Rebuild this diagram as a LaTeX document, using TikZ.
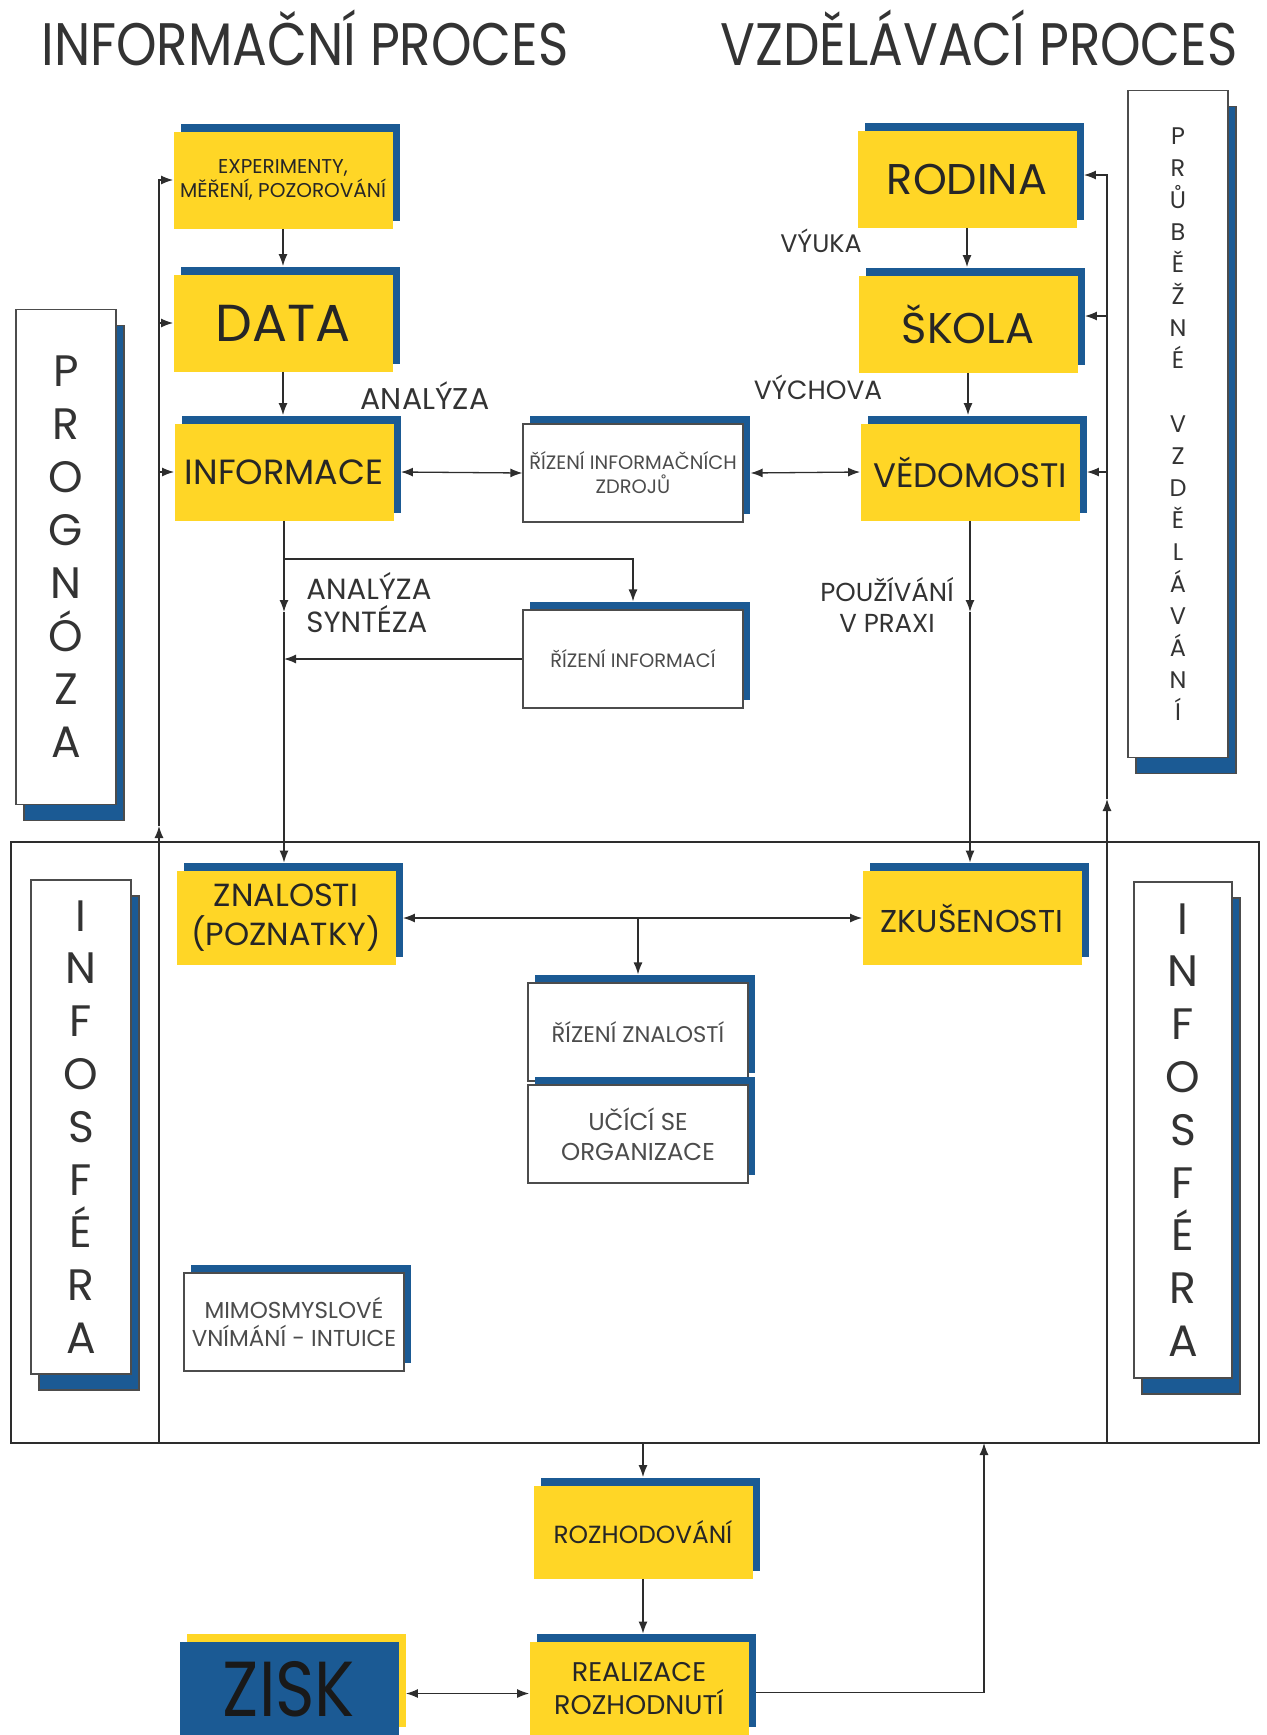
\documentclass[tikz,border=0pt]{standalone}
\usepackage{fontspec}
\setmainfont{Poppins}
\newfontfamily\titlefont{Poppins}[FakeStretch=0.86]
\usetikzlibrary{arrows.meta,shadows}
\definecolor{boxyellow}{RGB}{255,214,38}
\definecolor{boxblue}{RGB}{27,90,148}
\definecolor{linegray}{RGB}{45,45,45}

\begin{document}
\begin{tikzpicture}[
  x=0.5pt, y=-0.5pt,
  >={Latex[length=6pt,width=4.5pt]},
  conn/.style={draw=linegray, line width=0.65pt},
  ybox/.style={rectangle, fill=boxyellow, text=black!85, minimum width=109.5pt, minimum height=48.5pt, inner sep=0pt, align=center,
    general shadow={fill=boxblue, shadow xshift=3.5pt, shadow yshift=4pt}},
  wbox/.style={rectangle, draw=black!70, line width=0.6pt, fill=white, text=black!70, minimum width=110pt, minimum height=49pt, inner sep=0pt, align=center,
    general shadow={fill=boxblue, shadow xshift=3.5pt, shadow yshift=4pt}},
  sidebox/.style={rectangle, draw=black!70, line width=0.6pt, fill=white, text=black!80, minimum width=50pt, inner sep=0pt, align=center,
    general shadow={fill=boxblue, draw=black!70, shadow xshift=4pt, shadow yshift=-8pt}},
  lbl/.style={text=black!80, align=center, inner sep=0pt},
  title/.style={text=black!80, font=\titlefont\fontsize{30}{36}\selectfont},
  font=\fontsize{10}{12}\selectfont
]
\useasboundingbox (0,0) rectangle (1266,1735);

% titles
\node[title] (tinfo) at (305,38) {INFORMAČNÍ PROCES};
\node[title] (tvzd) at (979,38) {VZDĚLÁVACÍ PROCES};

% infosfera frame
\node[draw=linegray, line width=0.65pt, minimum width=624pt, minimum height=300.5pt, inner sep=0pt] (sfera) at (635,1142.5) {};

% informacni proces
\node[ybox, font=\fontsize{10}{12}\selectfont] (exp) at (283,180) {EXPERIMENTY,\\MĚŘENÍ, POZOROVÁNÍ};
\node[ybox, font=\fontsize{26}{30}\selectfont] (data) at (283,323) {DATA};
\node[ybox, font=\fontsize{17.5}{21}\selectfont] (info) at (284,472) {INFORMACE};

% vzdelavaci proces
\node[ybox, font=\fontsize{21.5}{25}\selectfont] (rodina) at (967,179) {RODINA};
\node[ybox, font=\fontsize{21.5}{25}\selectfont] (skola) at (968,324) {ŠKOLA};
\node[ybox, font=\fontsize{17}{20}\selectfont] (ved) at (970,472) {VĚDOMOSTI};

% rizeni
\node[wbox, font=\fontsize{9.7}{12}\selectfont] (riz) at (633,473) {ŘÍZENÍ INFORMAČNÍCH\\ZDROJŮ};
\node[wbox, font=\fontsize{9.7}{12}\selectfont] (ri) at (633,659) {ŘÍZENÍ INFORMACÍ};

% side boxes
\node[sidebox, minimum height=247.5pt, font=\fontsize{22}{26.5}\selectfont] (progn) at (66,557) {P\\R\\O\\G\\N\\Ó\\Z\\A};
\node[sidebox, minimum height=333.5pt, font=\fontsize{12}{16}\selectfont] (prubez) at (1178,424) {P\\R\\Ů\\B\\Ě\\Ž\\N\\É\\[16pt]V\\Z\\D\\Ě\\L\\Á\\V\\Á\\N\\Í};
\node[sidebox, minimum height=247pt, font=\fontsize{22}{26.4}\selectfont] (isfl) at (81,1127) {I\\N\\F\\O\\S\\F\\É\\R\\A};
\node[sidebox, minimum height=248pt, minimum width=49pt, font=\fontsize{22}{26.4}\selectfont] (isfr) at (1183,1130) {I\\N\\F\\O\\S\\F\\É\\R\\A};

% znalosti a zkusenosti
\node[ybox, minimum height=47pt, font=\fontsize{16}{19.5}\selectfont] (znal) at (286,918) {ZNALOSTI\\(POZNATKY)};
\node[ybox, minimum height=47pt, font=\fontsize{15.8}{19}\selectfont] (zku) at (972,918) {ZKUŠENOSTI};
\node[wbox, font=\fontsize{11.3}{14}\selectfont] (rzn) at (638,1032) {ŘÍZENÍ ZNALOSTÍ};
\node[wbox, font=\fontsize{12.2}{15}\selectfont] (uso) at (638,1134) {UČÍCÍ SE\\ORGANIZACE};
\node[wbox, font=\fontsize{11.5}{14}\selectfont] (mim) at (294,1322) {MIMOSMYSLOVÉ\\VNÍMÁNÍ - INTUICE};

% rozhodovani
\node[ybox, minimum height=46.5pt, font=\fontsize{12.4}{15}\selectfont] (rozh) at (643,1532) {ROZHODOVÁNÍ};
\node[ybox, minimum height=46.5pt, font=\fontsize{13.5}{16.5}\selectfont] (real) at (639,1688.5) {REALIZACE\\ROZHODNUTÍ};
\node[ybox, fill=boxblue, minimum height=46.5pt, text=black!90, text depth=0pt, font=\titlefont\fontsize{39}{42}\selectfont,
  general shadow={fill=boxyellow, shadow xshift=3.5pt, shadow yshift=4pt}] (zisk) at (289,1688.5) {ZISK};

% labels
\node[lbl, font=\fontsize{15}{17}\selectfont] (lanal) at (425,396) {ANALÝZA};
\node[lbl, font=\fontsize{12.7}{15}\selectfont] (lvyuka) at (821,241) {VÝUKA};
\node[lbl, font=\fontsize{13.2}{16}\selectfont] (lvych) at (818,387) {VÝCHOVA};
\node[lbl, align=left, anchor=west, font=\fontsize{14.6}{16.5}\selectfont] (lanso) at (306,603) {ANALÝZA\\SYNTÉZA};
\node[lbl, font=\fontsize{13}{15.5}\selectfont] (lpouz) at (887,605) {POUŽÍVÁNÍ\\V PRAXI};

% helper points
\coordinate (lb) at (159,1443);
\coordinate (lt) at (159,826);
\coordinate (rb) at (1107,1443);
\coordinate (rt) at (1107,799);
\coordinate (am) at (283,612);
\coordinate (br) at (283,559);
\coordinate (rr) at (984,1443);
\coordinate (datatop) at ([yshift=4pt]data.north);
\coordinate (infotop) at ([yshift=4pt]info.north);
\coordinate (skolatop) at ([yshift=4pt]skola.north);
\coordinate (vedtop) at ([yshift=4pt]ved.north);
\coordinate (ritop) at ([yshift=4pt]ri.north);
\coordinate (znaltop) at ([yshift=4pt]znal.north);
\coordinate (zkutop) at ([yshift=4pt]zku.north);
\coordinate (rzntop) at ([yshift=4pt]rzn.north);
\coordinate (rozhtop) at ([yshift=4pt]rozh.north);
\coordinate (realtop) at ([yshift=4pt]real.north);

% feedback left
\draw[conn,->] (lb) -- (lt);
\draw[conn,->] (lt) |- (exp.west);
\draw[conn,->] (lt |- data.west) -- (data.west);
\draw[conn,->] (lt |- info.west) -- (info.west);

% feedback right
\draw[conn,->] (rb) -- (rt);
\draw[conn,->] (rt) |- ([xshift=3.5pt,yshift=2pt]rodina.east);
\draw[conn,->] (rt |- skola.east) ++(0,-8) -- ([xshift=3.5pt,yshift=4pt]skola.east);
\draw[conn,->] (rt |- ved.east) -- ([xshift=3.5pt]ved.east);

% informacni tok
\draw[conn,->] (exp.south) -- (exp.south |- datatop);
\draw[conn,->] (data.south) -- (data.south |- infotop);
\draw[conn,<->] ([xshift=3.5pt]info.east) -- (riz.west);
\draw[conn,<->] ([xshift=3.5pt]riz.east) -- (ved.west);
\draw[conn,->] (rodina.south) -- (rodina.south |- skolatop);
\draw[conn,->] (skola.south) -- (skola.south |- vedtop);

\draw[conn,->] (info.south) -- (info.south |- am);
\draw[conn,->] (info.south |- am) -- (info.south |- znaltop);
\draw[conn,->] (info.south |- br) -| (ritop);
\draw[conn,->] (ri.west) -- (ri.west -| info.south);

\draw[conn,->] (ved.south) -- (ved.south |- am);
\draw[conn,->] (ved.south |- am) -- (ved.south |- zkutop);

\draw[conn,<->] ([xshift=3.5pt]znal.east) -- (zku.west);
\draw[conn,->] (rzntop |- znal.east) -- (rzntop);

% rozhodovani
\draw[conn,->] (sfera.south -| rozh.north) -- (rozhtop);
\draw[conn,->] (rozh.south) -- (rozh.south |- realtop);
\draw[conn,<->] ([xshift=3.5pt,yshift=-2.5pt]zisk.east) -- ([yshift=-2.5pt]real.west);
\draw[conn,->] ([xshift=3.5pt,yshift=-2pt]real.east) -| (rr);
\end{tikzpicture}
\end{document}
